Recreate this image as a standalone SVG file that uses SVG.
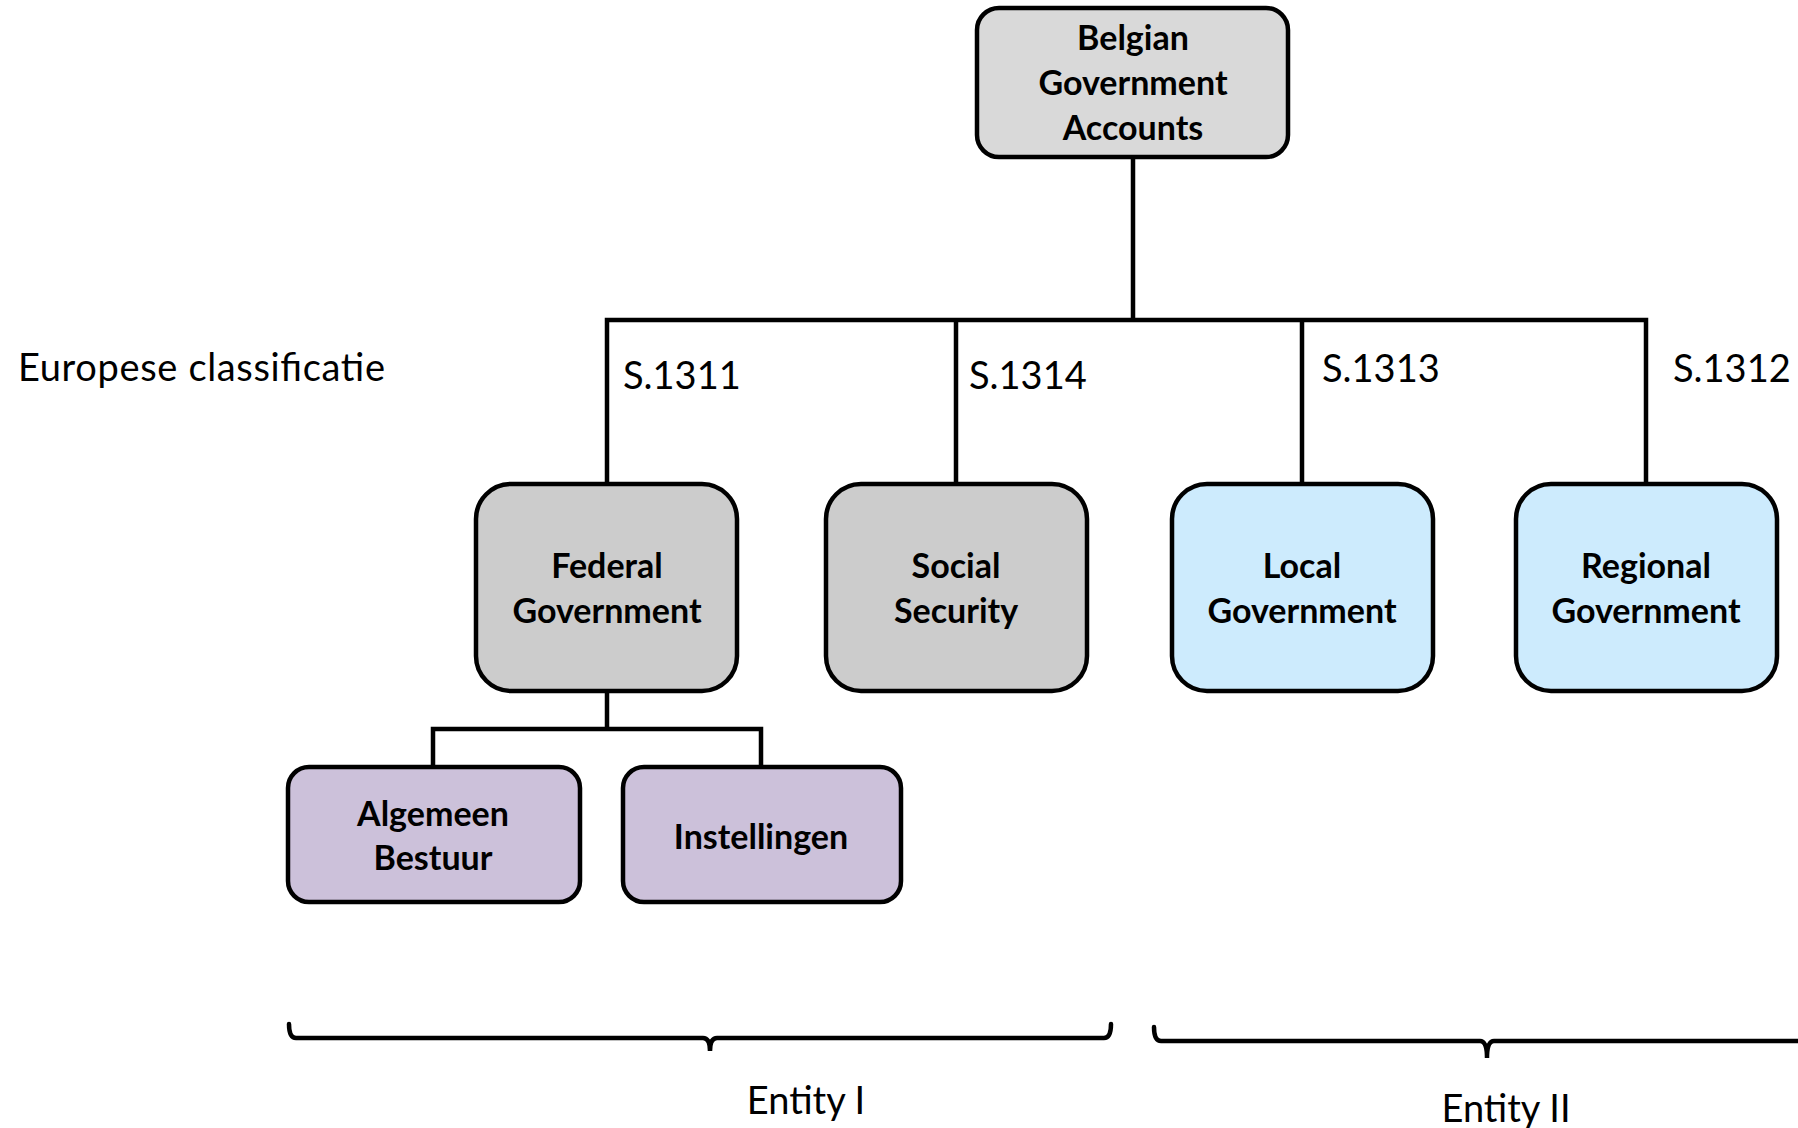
<svg xmlns="http://www.w3.org/2000/svg" width="1798" height="1128" viewBox="0 0 1798 1128">
<style>
.box{stroke:#000;stroke-width:4.5}
.grey1{fill:#d9d9d9}
.grey2{fill:#cccccc}
.purple{fill:#ccc1da}
.blue{fill:#cdebfd}
.bt{font-family:Lato,"Open Sans",sans-serif;font-weight:bold;font-size:34px;text-anchor:middle;fill:#000}
.lt{font-family:Lato,"Open Sans",sans-serif;font-size:38px;fill:#000}
.ln{fill:none;stroke:#000;stroke-width:4.5;stroke-linejoin:miter}
</style>
<rect width="1798" height="1128" fill="#fff"/>
<g id="connectors">
<path class="ln" d="M1133 157 V320"/>
<path class="ln" d="M607 484 V320 H1646 V484"/>
<path class="ln" d="M956 320 V484"/>
<path class="ln" d="M1302 320 V484"/>
<path class="ln" d="M607 691 V729"/>
<path class="ln" d="M433 767 V729 H761 V767"/>
</g>
<g id="root">
<rect class="box grey1" x="977" y="8" width="311" height="149" rx="22"/>
<text class="bt" x="1133" y="50">Belgian</text>
<text class="bt" x="1133" y="95">Government</text>
<text class="bt" x="1133" y="140">Accounts</text>
</g>
<g id="federal">
<rect class="box grey2" x="476" y="484" width="261" height="207" rx="35"/>
<text class="bt" x="607" y="578">Federal</text>
<text class="bt" x="607" y="623">Government</text>
</g>
<g id="social">
<rect class="box grey2" x="826" y="484" width="261" height="207" rx="35"/>
<text class="bt" x="956" y="578">Social</text>
<text class="bt" x="956" y="623">Security</text>
</g>
<g id="local">
<rect class="box blue" x="1172" y="484" width="261" height="207" rx="35"/>
<text class="bt" x="1302" y="578">Local</text>
<text class="bt" x="1302" y="623">Government</text>
</g>
<g id="regional">
<rect class="box blue" x="1516" y="484" width="261" height="207" rx="35"/>
<text class="bt" x="1646" y="578">Regional</text>
<text class="bt" x="1646" y="623">Government</text>
</g>
<g id="algemeen">
<rect class="box purple" x="288" y="767" width="292" height="135" rx="21"/>
<text class="bt" x="433" y="826">Algemeen</text>
<text class="bt" x="433" y="870">Bestuur</text>
</g>
<g id="instellingen">
<rect class="box purple" x="623" y="767" width="278" height="135" rx="21"/>
<text class="bt" x="761" y="849">Instellingen</text>
</g>
<g id="labels">
<text class="lt" x="18" y="381" textLength="367">Europese classificatie</text>
<text class="lt" x="623" y="389">S.1311</text>
<text class="lt" x="969" y="389">S.1314</text>
<text class="lt" x="1322" y="382">S.1313</text>
<text class="lt" x="1673" y="382">S.1312</text>
</g>
<g id="brackets">
<path class="ln" d="M289 1024 Q289 1038 296 1038 H703 Q710 1038 710 1051 Q710 1038 717 1038 H1104 Q1111 1038 1111 1024" stroke-linecap="round"/>
<path class="ln" d="M1154 1027 Q1154 1041 1161 1041 H1480 Q1487 1041 1487 1058 Q1487 1041 1494 1041 H1800" stroke-linecap="round"/>
<text class="lt" x="806" y="1114" text-anchor="middle">Entity I</text>
<text class="lt" x="1506" y="1122" text-anchor="middle">Entity II</text>
</g>
</svg>
